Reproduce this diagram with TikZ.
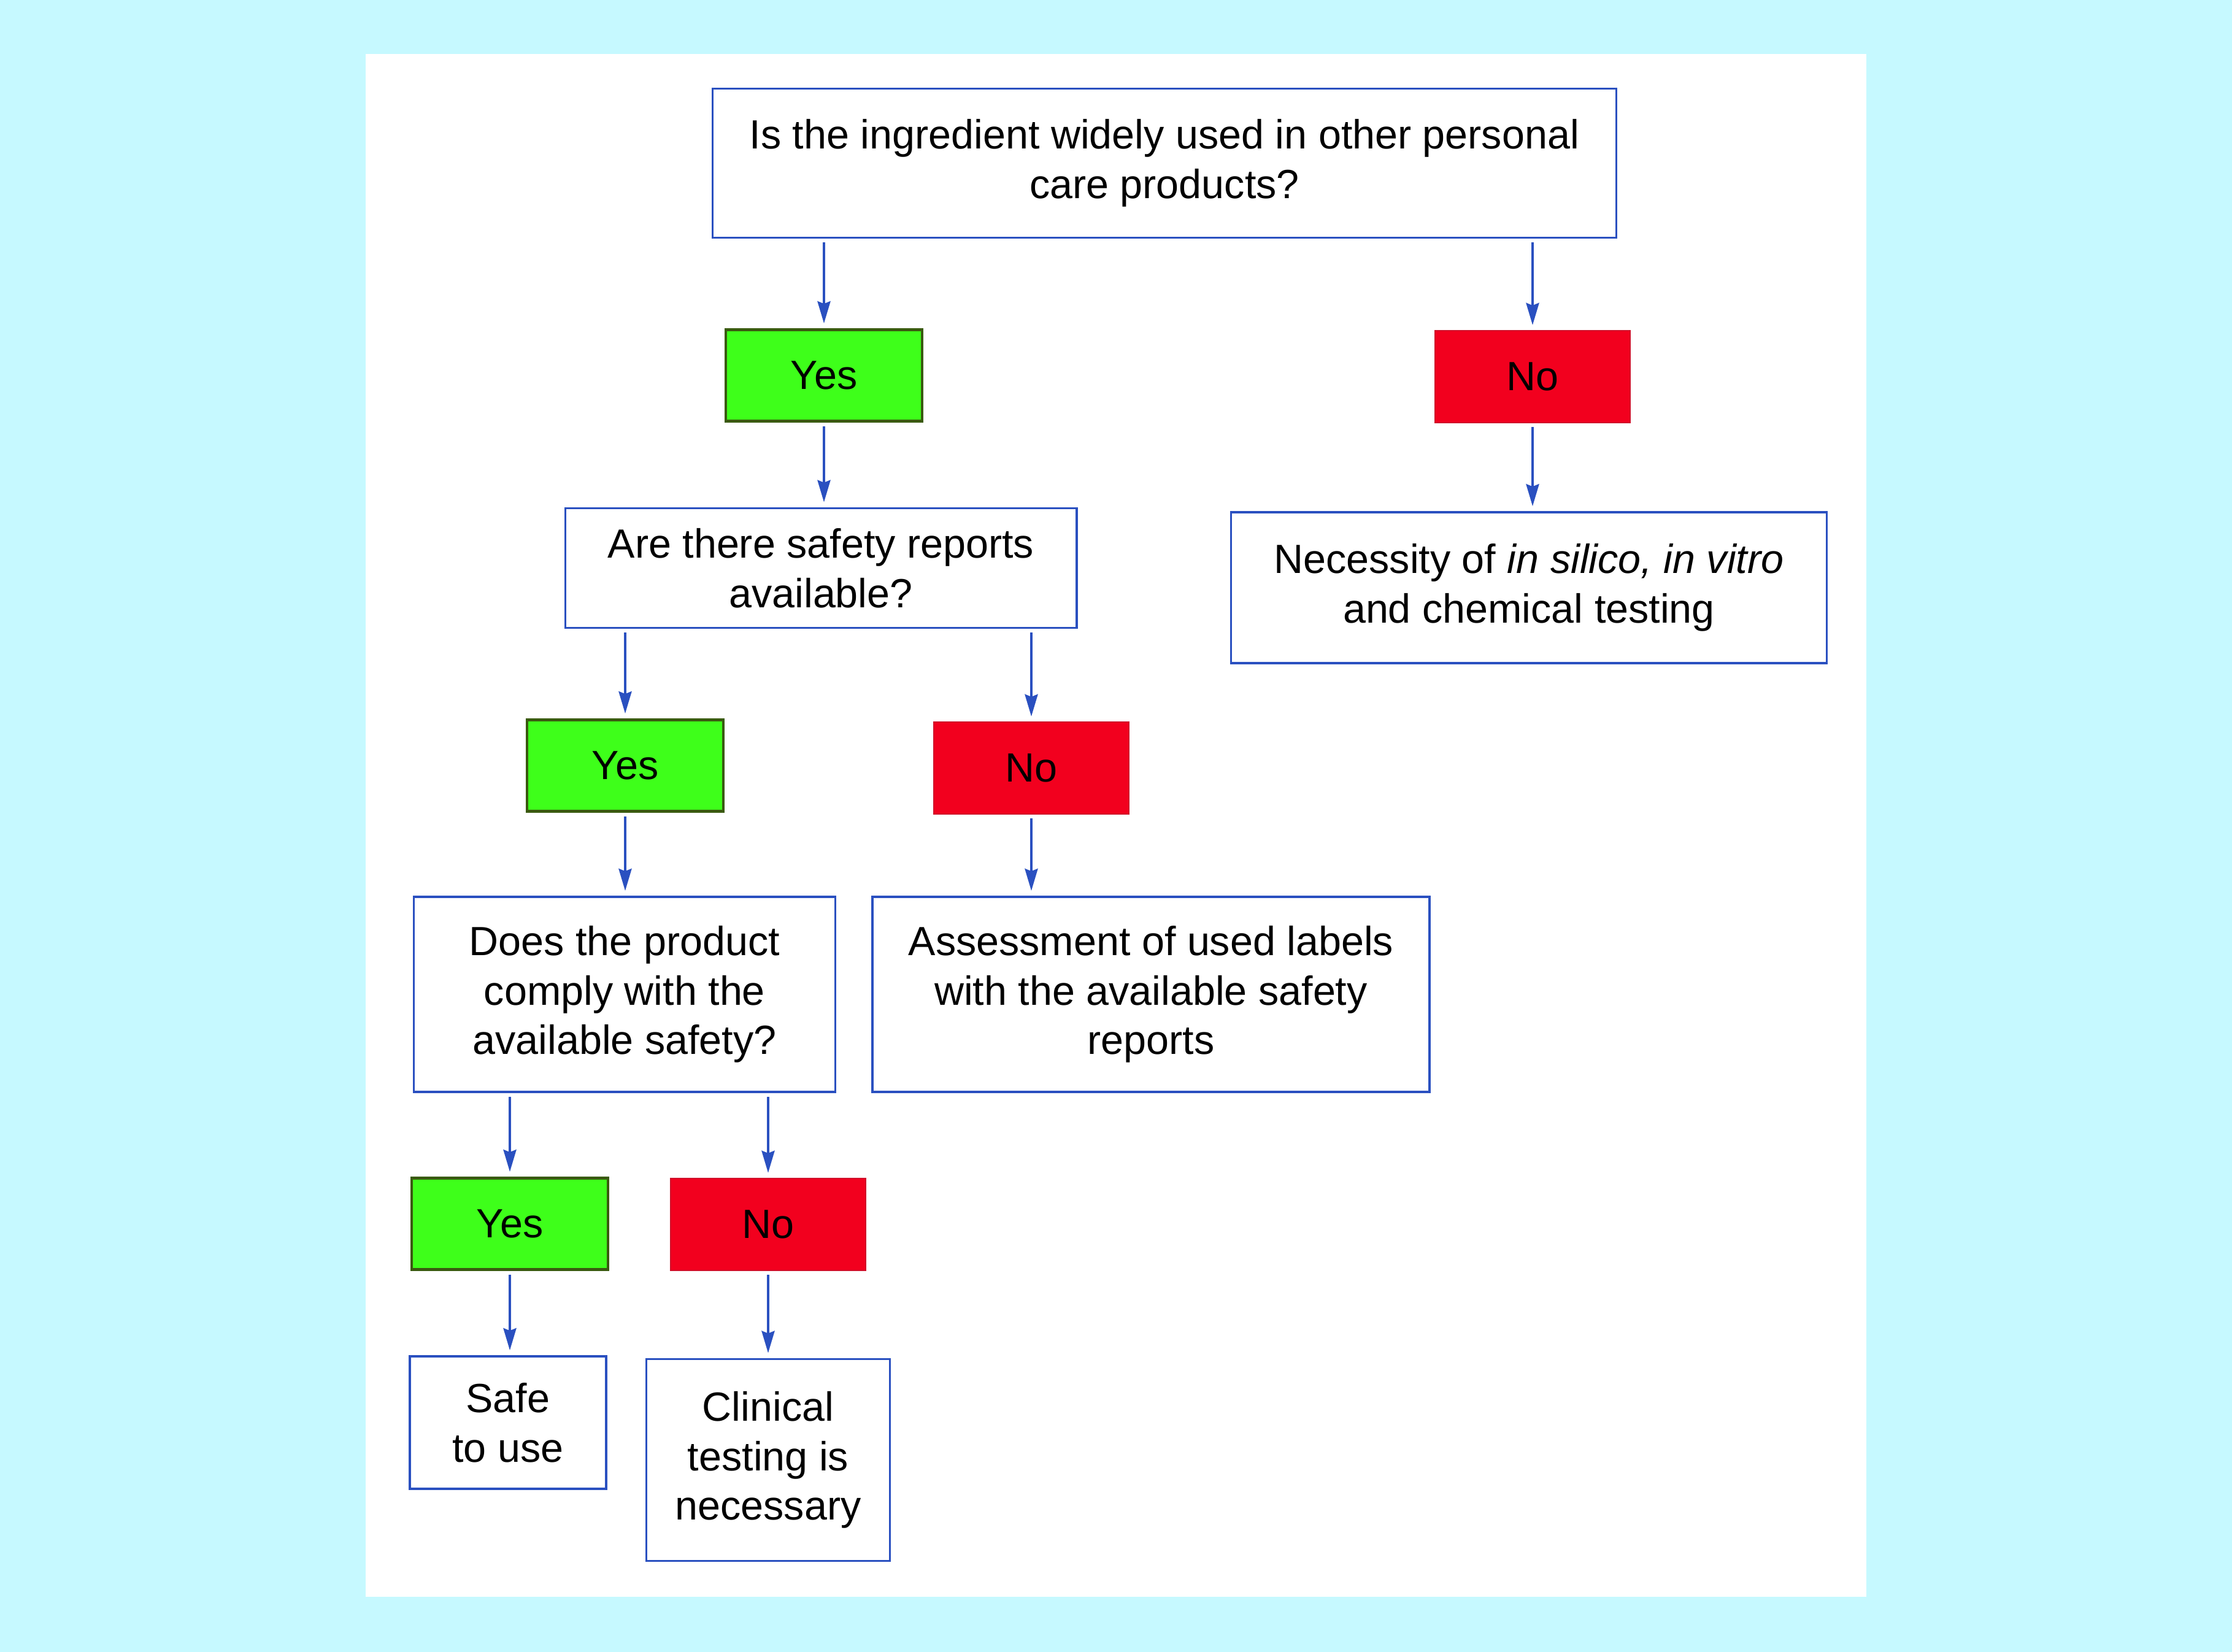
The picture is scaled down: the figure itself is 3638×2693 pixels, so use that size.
\documentclass[tikz,border=0pt]{standalone}
\usepackage{fontspec}
\setmainfont{Liberation Sans}
\usetikzlibrary{arrows.meta}
\definecolor{bgcyan}{RGB}{198,249,255}
\definecolor{yesfill}{RGB}{62,255,26}
\definecolor{yesdraw}{RGB}{58,90,16}
\definecolor{nofill}{RGB}{242,0,30}
\definecolor{nodraw}{RGB}{208,16,42}
\definecolor{lineblue}{RGB}{42,80,192}
\tikzset{
  qbox/.style={draw=lineblue, line width=1pt, fill=white, rectangle, align=center, inner sep=0pt,
    font=\fontsize{18.9}{22.9}\selectfont},
  yesbox/.style={draw=yesdraw, line width=1.3pt, fill=yesfill, rectangle, inner sep=0pt,
    minimum width=3.2cm, minimum height=1.49cm, font=\fontsize{18.9}{22.9}\selectfont},
  nobox/.style={draw=nodraw, line width=0.6pt, fill=nofill, rectangle, inner sep=0pt,
    minimum width=3.18cm, minimum height=1.5cm, font=\fontsize{18.9}{22.9}\selectfont},
  arr/.style={draw=lineblue, line width=1.1pt, shorten <=0.06cm, shorten >=0.08cm,
    -{Stealth[length=0.36cm, width=0.21cm, inset=0.04cm]}, fill=lineblue}
}
\begin{document}
\begin{tikzpicture}[x=0.01cm, y=-0.01cm]
\fill[bgcyan] (0,0) rectangle (3638,2693);
\useasboundingbox (0,0) rectangle (3638,2693);
\fill[white] (596,88) rectangle (3042,2603);

\node[qbox, minimum width=14.72cm, minimum height=2.43cm] (top) at (1898,266)
  {Is the ingredient widely used in other personal\\care products?};
\node[yesbox] (yes1) at (1343,612) {Yes};
\node[nobox] (no1) at (2498,614) {No};
\node[qbox, minimum width=8.33cm, minimum height=1.95cm] (q2) at (1338,926)
  {Are there safety reports\\available?};
\node[qbox, minimum width=9.70cm, minimum height=2.46cm] (nec) at (2492,958)
  {Necessity of \textit{in silico, in vitro}\\and chemical testing};
\node[yesbox] (yes2) at (1019,1248) {Yes};
\node[nobox] (no2) at (1681,1252) {No};
\node[qbox, minimum width=6.87cm, minimum height=3.18cm] (q3) at (1018,1621)
  {Does the product\\comply with the\\available safety?};
\node[qbox, minimum width=9.07cm, minimum height=3.18cm] (assess) at (1876,1621)
  {Assessment of used labels\\with the available safety\\reports};
\node[yesbox] (yes3) at (831,1995) {Yes};
\node[nobox] (no3) at (1252,1996) {No};
\node[qbox, minimum width=3.20cm, minimum height=2.16cm] (safe) at (828,2319)
  {Safe\\to use};
\node[qbox, minimum width=3.97cm, minimum height=3.29cm] (clin) at (1252,2380)
  {Clinical\\testing is\\necessary};

\draw[arr] (top.south -| yes1.north) -- (yes1.north);
\draw[arr] (top.south -| no1.north) -- (no1.north);
\draw[arr] (yes1.south) -- (yes1.south |- q2.north);
\draw[arr] (no1.south) -- (no1.south |- nec.north);
\draw[arr] (q2.south -| yes2.north) -- (yes2.north);
\draw[arr] (q2.south -| no2.north) -- (no2.north);
\draw[arr] (yes2.south) -- (yes2.south |- q3.north);
\draw[arr] (no2.south) -- (no2.south |- assess.north);
\draw[arr] (q3.south -| yes3.north) -- (yes3.north);
\draw[arr] (q3.south -| no3.north) -- (no3.north);
\draw[arr] (yes3.south) -- (yes3.south |- safe.north);
\draw[arr] (no3.south) -- (no3.south |- clin.north);
\end{tikzpicture}
\end{document}
